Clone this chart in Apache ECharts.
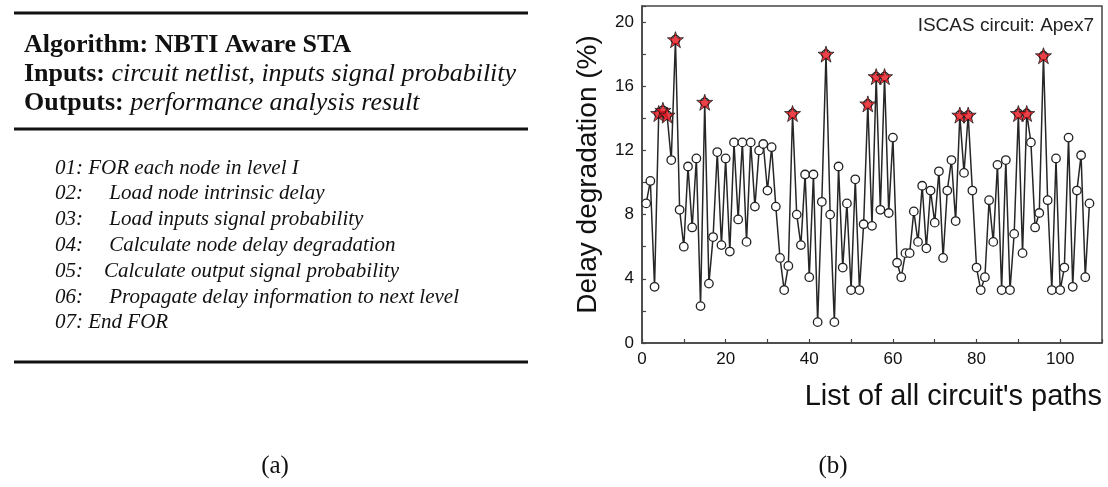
<!DOCTYPE html>
<html>
<head>
<meta charset="utf-8">
<script src="https://cdn.jsdelivr.net/npm/echarts@6/dist/echarts.min.js"></script>
<style>
html,body{margin:0;padding:0;background:#fff;}
#chart{width:1108px;height:487px;}
</style>
</head>
<body>
<div id="chart"></div>
<script>
// ---- data ----
const delayDegradation = [
  8.7, 10.1, 3.5, 14.3, 14.5, 14.2, 11.4, 18.9, 8.3, 6.0,
  11.0, 7.2, 11.5, 2.3, 15.0, 3.7, 6.6, 11.9, 6.1, 11.5,
  5.7, 12.5, 7.7, 12.5, 6.3, 12.5, 8.5, 12.0, 12.4, 9.5,
  12.2, 8.5, 5.3, 3.3, 4.8, 14.3, 8.0, 6.1, 10.5, 4.1,
  10.5, 1.3, 8.8, 18.0, 8.0, 1.3, 11.0, 4.7, 8.7, 3.3,
  10.2, 3.3, 7.4, 14.9, 7.3, 16.6, 8.3, 16.6, 8.1, 12.8,
  5.0, 4.1, 5.6, 5.6, 8.2, 6.3, 9.8, 5.9, 9.5, 7.5,
  10.7, 5.3, 9.5, 11.4, 7.6, 14.2, 10.6, 14.2, 9.5, 4.7,
  3.3, 4.1, 8.9, 6.3, 11.1, 3.3, 11.4, 3.3, 6.8, 14.3,
  5.6, 14.3, 12.5, 7.2, 8.1, 17.9, 8.9, 3.3, 11.5, 3.3,
  4.7, 12.8, 3.5, 9.5, 11.7, 4.1, 8.7
];
const criticalPaths = [4, 5, 6, 8, 15, 36, 44, 54, 56, 58, 76, 78, 90, 92, 96];
const xTickLabels = [0, 20, 40, 60, 80, 100];
const yTickLabels = [0, 4, 8, 12, 16, 20];
const xAxisTitle = "List of all circuit's paths";
const yAxisTitle = 'Delay degradation (%)';
const annotation = 'ISCAS circuit: Apex7';

const algoTitle = ['Algorithm:', 'NBTI Aware STA'];
const algoInputs = ['Inputs:', 'circuit netlist, inputs signal probability'];
const algoOutputs = ['Outputs:', 'performance analysis result'];
const algoSteps = [
  '01: FOR each node in level I',
  '02:     Load node intrinsic delay',
  '03:     Load inputs signal probability',
  '04:     Calculate node delay degradation',
  '05:    Calculate output signal probability',
  '06:     Propagate delay information to next level',
  '07: End FOR'
];
const panelCaptions = ['(a)', '(b)'];

// ---- chart ----
const SANS = '"Liberation Sans", Arial, sans-serif';
const SERIF = '"Liberation Serif", "Times New Roman", serif';
const STAR = 'path://M50,0 L61.2,34.5 L97.6,34.5 L68.2,55.9 L79.4,90.5 L50,69.1 L20.6,90.5 L31.8,55.9 L2.4,34.5 L38.8,34.5 Z';

const graphics = [];
// rules
[13, 129, 362].forEach(y => graphics.push({
  type: 'line', silent: true,
  shape: { x1: 14, y1: y, x2: 528, y2: y },
  style: { stroke: '#111', lineWidth: 3 }
}));
const hdrRich = {
  b: { fontFamily: SERIF, fontSize: 26, fontWeight: 'bold', fill: '#111' },
  i: { fontFamily: SERIF, fontSize: 26, fontStyle: 'italic', fill: '#111' }
};
graphics.push({ type: 'text', x: 24, y: 45, silent: true,
  style: { text: '{b|' + algoTitle[0] + ' ' + algoTitle[1] + '}', rich: hdrRich, verticalAlign: 'middle' } });
graphics.push({ type: 'text', x: 24, y: 74, silent: true,
  style: { text: '{b|' + algoInputs[0] + '\u00a0}{i|' + algoInputs[1] + '}', rich: hdrRich, verticalAlign: 'middle' } });
graphics.push({ type: 'text', x: 24, y: 103, silent: true,
  style: { text: '{b|' + algoOutputs[0] + '\u00a0}{i|' + algoOutputs[1] + '}', rich: hdrRich, verticalAlign: 'middle' } });
algoSteps.forEach((s, i) => graphics.push({
  type: 'text', x: 55, y: 168 + i * 25.8, silent: true,
  style: { text: s, font: 'italic 21px ' + SERIF, fill: '#111', verticalAlign: 'middle' }
}));
graphics.push({ type: 'text', x: 275, y: 466, silent: true,
  style: { text: panelCaptions[0], font: '25px ' + SERIF, fill: '#111', align: 'center', verticalAlign: 'middle' } });
graphics.push({ type: 'text', x: 833, y: 466, silent: true,
  style: { text: panelCaptions[1], font: '25px ' + SERIF, fill: '#111', align: 'center', verticalAlign: 'middle' } });
graphics.push({ type: 'text', x: 1094, y: 26, silent: true,
  style: { text: annotation, font: '19px ' + SANS, fill: '#222', align: 'right', verticalAlign: 'middle' } });

const axisColor = '#444';
const chart = echarts.init(document.getElementById('chart'), null, { renderer: 'canvas' });
chart.setOption({
  animation: false,
  backgroundColor: '#fff',
  grid: { left: 642, top: 6, width: 460, height: 337, show: true, borderColor: axisColor, borderWidth: 1.5, backgroundColor: 'transparent' },
  xAxis: {
    type: 'value', min: 0, max: 110, interval: 10,
    axisLine: { show: true, onZero: false, lineStyle: { color: axisColor, width: 1.5 } },
    axisTick: { show: true, inside: true, length: 4, lineStyle: { color: axisColor, width: 1.2 } },
    axisLabel: { margin: 8, color: '#111', fontFamily: SANS, fontSize: 17,
      formatter: v => (xTickLabels.indexOf(v) >= 0 ? String(v) : '') },
    splitLine: { show: false },
    name: xAxisTitle, nameLocation: 'end', nameGap: 0,
    nameTextStyle: { fontFamily: SANS, fontSize: 29, color: '#111', align: 'right', verticalAlign: 'top', padding: [39, 0, 0, 0] }
  },
  yAxis: {
    type: 'value', min: 0, max: 21, interval: 2,
    axisLine: { show: true, onZero: false, lineStyle: { color: axisColor, width: 1.5 } },
    axisTick: { show: true, inside: true, length: 4, lineStyle: { color: axisColor, width: 1.2 } },
    axisLabel: { margin: 8, color: '#111', fontFamily: SANS, fontSize: 17,
      formatter: v => (yTickLabels.indexOf(v) >= 0 ? String(v) : '') },
    splitLine: { show: false },
    name: yAxisTitle, nameLocation: 'middle', nameGap: 40, nameRotate: 90,
    nameTextStyle: { fontFamily: SANS, fontSize: 28, color: '#111' }
  },
  series: [
    {
      type: 'line',
      data: delayDegradation.map((v, i) => [i + 1, v]),
      symbol: 'circle', symbolSize: 8.5, showAllSymbol: true,
      lineStyle: { color: '#262626', width: 1.5 },
      itemStyle: { color: '#fff', borderColor: '#222', borderWidth: 1.3 },
      z: 2
    },
    {
      type: 'scatter',
      data: criticalPaths.map(p => [p, delayDegradation[p - 1]]),
      symbol: STAR, symbolSize: 16,
      itemStyle: { color: '#e8121b', borderColor: '#1a1a1a', borderWidth: 1 },
      z: 3
    }
  ],
  graphic: graphics
});
</script>
</body>
</html>
